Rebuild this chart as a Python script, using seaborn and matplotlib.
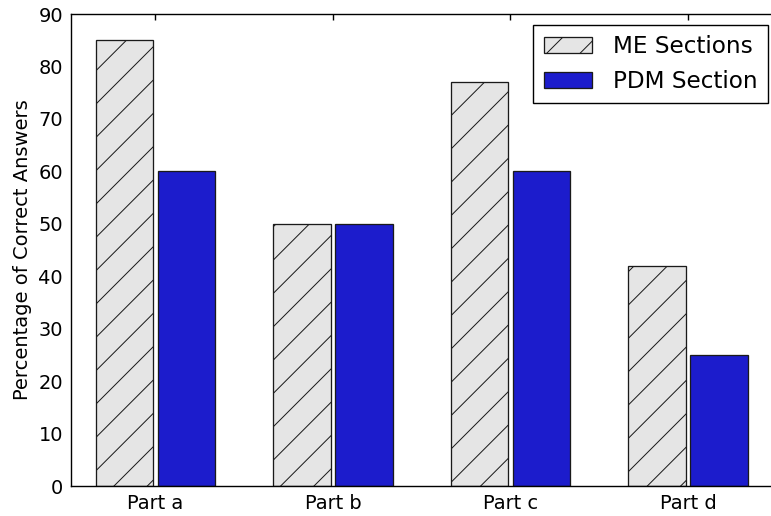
import matplotlib
matplotlib.use("Agg")
import matplotlib.pyplot as plt
import seaborn as sns
import pandas as pd
from matplotlib.patches import Patch

# Survey results: percentage of correct answers per question part
parts = ["Part a", "Part b", "Part c", "Part d"]
me_sections = [85, 50, 77, 42]
pdm_section = [60, 50, 60, 25]
series_names = ["ME Sections", "PDM Section"]
y_ticks = [0, 10, 20, 30, 40, 50, 60, 70, 80, 90]

DPI = 200
W, H = 771, 516


def pt(pixels):
    """Convert a pixel size to points at the output resolution."""
    return pixels * 72.0 / DPI


ME_FACE = "#e5e5e5"
PDM_FACE = "#1c1ccc"
EDGE = "#1a1a1a"

sns.set_theme(style="white")
plt.rcParams.update({
    "font.family": ["DejaVu Sans"],
    "text.color": "black",
    "axes.labelcolor": "black",
    "hatch.linewidth": pt(1.0),
    "hatch.color": "black",
    "axes.linewidth": pt(1.4),
    "axes.edgecolor": "black",
    "xtick.direction": "in",
    "ytick.direction": "in",
    "xtick.top": True,
    "ytick.right": False,
    "xtick.major.size": pt(5.6),
    "ytick.major.size": pt(5.6),
    "xtick.major.width": pt(1.4),
    "ytick.major.width": pt(1.4),
    "xtick.color": "black",
    "ytick.color": "black",
    "xtick.labelcolor": "black",
    "ytick.labelcolor": "black",
})

df = pd.DataFrame({
    "part": parts * 2,
    "section": [series_names[0]] * len(parts) + [series_names[1]] * len(parts),
    "pct": me_sections + pdm_section,
})

# The plot area runs slightly past the right edge of the canvas
fig = plt.figure(figsize=(W / DPI, H / DPI), dpi=DPI)
ax_width_px = 706.0
px_per_unit = 177.5
ax = fig.add_axes([71 / W, (H - 486) / H, ax_width_px / W, 472 / H])

sns.barplot(
    data=df, x="part", y="pct", hue="section", order=parts,
    hue_order=series_names,
    palette={series_names[0]: ME_FACE, series_names[1]: PDM_FACE},
    width=0.7, gap=0.08, saturation=1, errorbar=None,
    edgecolor=EDGE, linewidth=pt(1.3), legend=False, ax=ax,
)

# Hatch the ME bars (first hue group)
for container, hatch in zip(ax.containers, ["//", ""]):
    for bar in container:
        bar.set_hatch(hatch)

x_left = -0.476
ax.set_xlim(x_left, x_left + ax_width_px / px_per_unit)
ax.set_ylim(0, 90)
ax.set_yticks(y_ticks)
ax.set_xlabel("")
ax.set_ylabel("Percentage of Correct Answers", fontsize=pt(19.5), labelpad=pt(6))
ax.tick_params(axis="both", labelsize=pt(19.4), pad=pt(8))
for name, s in ax.spines.items():
    s.set_visible(name != "right")

handles = [
    Patch(facecolor=ME_FACE, edgecolor=EDGE, hatch="//", linewidth=pt(1.3)),
    Patch(facecolor=PDM_FACE, edgecolor=EDGE, linewidth=pt(1.3)),
]
leg = fig.legend(
    handles, series_names, loc="upper right",
    bbox_to_anchor=(768 / W, 1 - 25 / H), borderaxespad=0,
    fontsize=pt(23.1), frameon=True, fancybox=False, shadow=False,
    handlelength=2.1, handleheight=0.7, handletextpad=0.9,
    labelspacing=0.5, borderpad=0.45,
)
leg.get_frame().set_edgecolor("black")
leg.get_frame().set_linewidth(pt(1.4))
leg.get_frame().set_alpha(1)

fig.savefig("out.png", dpi=DPI)
